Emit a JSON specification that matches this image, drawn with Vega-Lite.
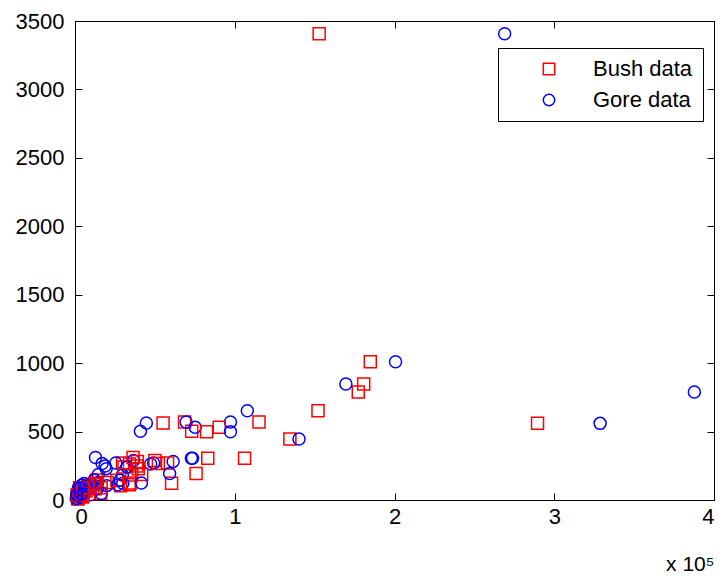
{
  "$schema": "https://vega.github.io/schema/vega-lite/v6.json",
  "width": 639,
  "height": 479,
  "autosize": {"type": "none"},
  "padding": {"left": 75, "top": 21, "right": 8, "bottom": 76},
  "background": "white",
  "config": {
    "view": {"stroke": "black", "strokeWidth": 1},
    "font": "Liberation Sans",
    "axis": {
      "grid": false,
      "domainColor": "black",
      "domainWidth": 1,
      "tickColor": "black",
      "tickWidth": 1,
      "tickSize": -7,
      "labelColor": "black",
      "labelFontSize": 22,
      "labelFont": "Liberation Sans",
      "titleFont": "Liberation Sans",
      "titleFontWeight": "normal",
      "titleColor": "black"
    }
  },
  "data": {
    "values": [
      {"county": "Alachua", "Bush data": 34124, "Gore data": 47365, "Buchanan": 263},
      {"county": "Baker", "Bush data": 5610, "Gore data": 2392, "Buchanan": 73},
      {"county": "Bay", "Bush data": 38637, "Gore data": 18850, "Buchanan": 248},
      {"county": "Bradford", "Bush data": 5414, "Gore data": 3075, "Buchanan": 65},
      {"county": "Brevard", "Bush data": 115185, "Gore data": 97318, "Buchanan": 570},
      {"county": "Broward", "Bush data": 177323, "Gore data": 387703, "Buchanan": 789},
      {"county": "Calhoun", "Bush data": 2873, "Gore data": 2155, "Buchanan": 90},
      {"county": "Charlotte", "Bush data": 35426, "Gore data": 29645, "Buchanan": 182},
      {"county": "Citrus", "Bush data": 29767, "Gore data": 25525, "Buchanan": 270},
      {"county": "Clay", "Bush data": 41736, "Gore data": 14632, "Buchanan": 186},
      {"county": "Collier", "Bush data": 60450, "Gore data": 29921, "Buchanan": 122},
      {"county": "Columbia", "Bush data": 10964, "Gore data": 7047, "Buchanan": 89},
      {"county": "DeSoto", "Bush data": 4256, "Gore data": 3320, "Buchanan": 36},
      {"county": "Dixie", "Bush data": 2697, "Gore data": 1826, "Buchanan": 29},
      {"county": "Duval", "Bush data": 152098, "Gore data": 107864, "Buchanan": 652},
      {"county": "Escambia", "Bush data": 73017, "Gore data": 40943, "Buchanan": 502},
      {"county": "Flagler", "Bush data": 12613, "Gore data": 13897, "Buchanan": 83},
      {"county": "Franklin", "Bush data": 2454, "Gore data": 2046, "Buchanan": 33},
      {"county": "Gadsden", "Bush data": 4767, "Gore data": 9735, "Buchanan": 38},
      {"county": "Gilchrist", "Bush data": 3300, "Gore data": 1910, "Buchanan": 29},
      {"county": "Glades", "Bush data": 1841, "Gore data": 1442, "Buchanan": 9},
      {"county": "Gulf", "Bush data": 3550, "Gore data": 2397, "Buchanan": 71},
      {"county": "Hamilton", "Bush data": 2146, "Gore data": 1722, "Buchanan": 23},
      {"county": "Hardee", "Bush data": 3765, "Gore data": 2339, "Buchanan": 30},
      {"county": "Hendry", "Bush data": 4747, "Gore data": 3240, "Buchanan": 22},
      {"county": "Hernando", "Bush data": 30646, "Gore data": 32644, "Buchanan": 242},
      {"county": "Highlands", "Bush data": 20206, "Gore data": 14167, "Buchanan": 127},
      {"county": "Hillsborough", "Bush data": 180713, "Gore data": 169557, "Buchanan": 847},
      {"county": "Holmes", "Bush data": 5011, "Gore data": 2177, "Buchanan": 76},
      {"county": "Indian River", "Bush data": 28635, "Gore data": 19768, "Buchanan": 105},
      {"county": "Jackson", "Bush data": 9138, "Gore data": 6868, "Buchanan": 102},
      {"county": "Jefferson", "Bush data": 2481, "Gore data": 3041, "Buchanan": 29},
      {"county": "Lafayette", "Bush data": 1670, "Gore data": 789, "Buchanan": 10},
      {"county": "Lake", "Bush data": 50010, "Gore data": 36571, "Buchanan": 289},
      {"county": "Lee", "Bush data": 106141, "Gore data": 73560, "Buchanan": 305},
      {"county": "Leon", "Bush data": 39053, "Gore data": 61425, "Buchanan": 282},
      {"county": "Levy", "Bush data": 6858, "Gore data": 5398, "Buchanan": 67},
      {"county": "Liberty", "Bush data": 1317, "Gore data": 1017, "Buchanan": 39},
      {"county": "Madison", "Bush data": 3038, "Gore data": 3014, "Buchanan": 29},
      {"county": "Manatee", "Bush data": 57948, "Gore data": 49226, "Buchanan": 271},
      {"county": "Marion", "Bush data": 55135, "Gore data": 44674, "Buchanan": 563},
      {"county": "Martin", "Bush data": 33972, "Gore data": 26621, "Buchanan": 112},
      {"county": "Miami-Dade", "Bush data": 289533, "Gore data": 328702, "Buchanan": 560},
      {"county": "Monroe", "Bush data": 16059, "Gore data": 16483, "Buchanan": 47},
      {"county": "Nassau", "Bush data": 16404, "Gore data": 6955, "Buchanan": 90},
      {"county": "Okaloosa", "Bush data": 52186, "Gore data": 16989, "Buchanan": 267},
      {"county": "Okeechobee", "Bush data": 5057, "Gore data": 4588, "Buchanan": 43},
      {"county": "Orange", "Bush data": 134517, "Gore data": 140220, "Buchanan": 446},
      {"county": "Osceola", "Bush data": 26212, "Gore data": 28187, "Buchanan": 145},
      {"county": "Palm Beach", "Bush data": 152846, "Gore data": 268945, "Buchanan": 3407},
      {"county": "Pasco", "Bush data": 68582, "Gore data": 69576, "Buchanan": 570},
      {"county": "Pinellas", "Bush data": 184849, "Gore data": 200657, "Buchanan": 1010},
      {"county": "Polk", "Bush data": 90310, "Gore data": 75207, "Buchanan": 532},
      {"county": "Putnam", "Bush data": 13457, "Gore data": 12107, "Buchanan": 147},
      {"county": "St. Johns", "Bush data": 39564, "Gore data": 19509, "Buchanan": 229},
      {"county": "St. Lucie", "Bush data": 34705, "Gore data": 41560, "Buchanan": 124},
      {"county": "Santa Rosa", "Bush data": 36339, "Gore data": 12818, "Buchanan": 311},
      {"county": "Sarasota", "Bush data": 83117, "Gore data": 72869, "Buchanan": 305},
      {"county": "Seminole", "Bush data": 75790, "Gore data": 59227, "Buchanan": 194},
      {"county": "Sumter", "Bush data": 12127, "Gore data": 9637, "Buchanan": 114},
      {"county": "Suwannee", "Bush data": 8006, "Gore data": 4075, "Buchanan": 108},
      {"county": "Taylor", "Bush data": 4056, "Gore data": 2649, "Buchanan": 27},
      {"county": "Union", "Bush data": 2332, "Gore data": 1407, "Buchanan": 37},
      {"county": "Volusia", "Bush data": 82368, "Gore data": 97313, "Buchanan": 498},
      {"county": "Wakulla", "Bush data": 4512, "Gore data": 3838, "Buchanan": 46},
      {"county": "Walton", "Bush data": 12182, "Gore data": 5642, "Buchanan": 120},
      {"county": "Washington", "Bush data": 4994, "Gore data": 2798, "Buchanan": 88}
    ]
  },
  "transform": [
    {"fold": ["Bush data", "Gore data"], "as": ["series", "votes"]}
  ],
  "layer": [
    {
      "mark": {"type": "point", "filled": false, "strokeWidth": 1.5, "size": 144, "opacity": 1},
      "encoding": {
        "x": {
          "field": "votes", "type": "quantitative",
          "scale": {"domain": [0, 400000], "nice": false},
          "axis": {
            "orient": "bottom",
            "values": [0, 100000, 200000, 300000, 400000],
            "labelExpr": "format(datum.value / 100000, 'd')",
            "labelPadding": 13,
            "title": "x 10⁵",
            "titleFontSize": 21,
            "titleAnchor": "end",
            "titleAlign": "right",
            "titlePadding": 26
          }
        },
        "y": {
          "field": "Buchanan", "type": "quantitative",
          "scale": {"domain": [0, 3500], "nice": false},
          "axis": {
            "orient": "left",
            "values": [0, 500, 1000, 1500, 2000, 2500, 3000, 3500],
            "format": "d",
            "labelPadding": 18,
            "title": null
          }
        },
        "color": {
          "field": "series", "type": "nominal",
          "scale": {"domain": ["Bush data", "Gore data"], "range": ["#ff0000", "#0000ff"]},
          "legend": {
            "title": null,
            "orient": "none",
            "legendX": 423,
            "legendY": 27,
            "strokeColor": "black",
            "fillColor": "white",
            "padding": 10,
            "symbolSize": 130,
            "symbolStrokeWidth": 1.5,
            "symbolOffset": 30,
            "labelOffset": 33,
            "labelFontSize": 22,
            "labelFont": "Liberation Sans",
            "labelColor": "black",
            "rowPadding": 9,
            "cornerRadius": 0
          }
        },
        "shape": {
          "field": "series", "type": "nominal",
          "scale": {"domain": ["Bush data", "Gore data"], "range": ["square", "circle"]}
        }
      }
    },
    {
      "mark": {"type": "point", "opacity": 0},
      "encoding": {
        "x": {
          "field": "votes", "type": "quantitative",
          "scale": {"domain": [0, 400000], "nice": false},
          "axis": {"orient": "top", "values": [0, 100000, 200000, 300000, 400000], "labels": false, "title": null}
        },
        "y": {
          "field": "Buchanan", "type": "quantitative",
          "scale": {"domain": [0, 3500], "nice": false},
          "axis": {"orient": "right", "values": [0, 500, 1000, 1500, 2000, 2500, 3000, 3500], "labels": false, "title": null}
        }
      }
    }
  ],
  "resolve": {"axis": {"x": "independent", "y": "independent"}}
}
